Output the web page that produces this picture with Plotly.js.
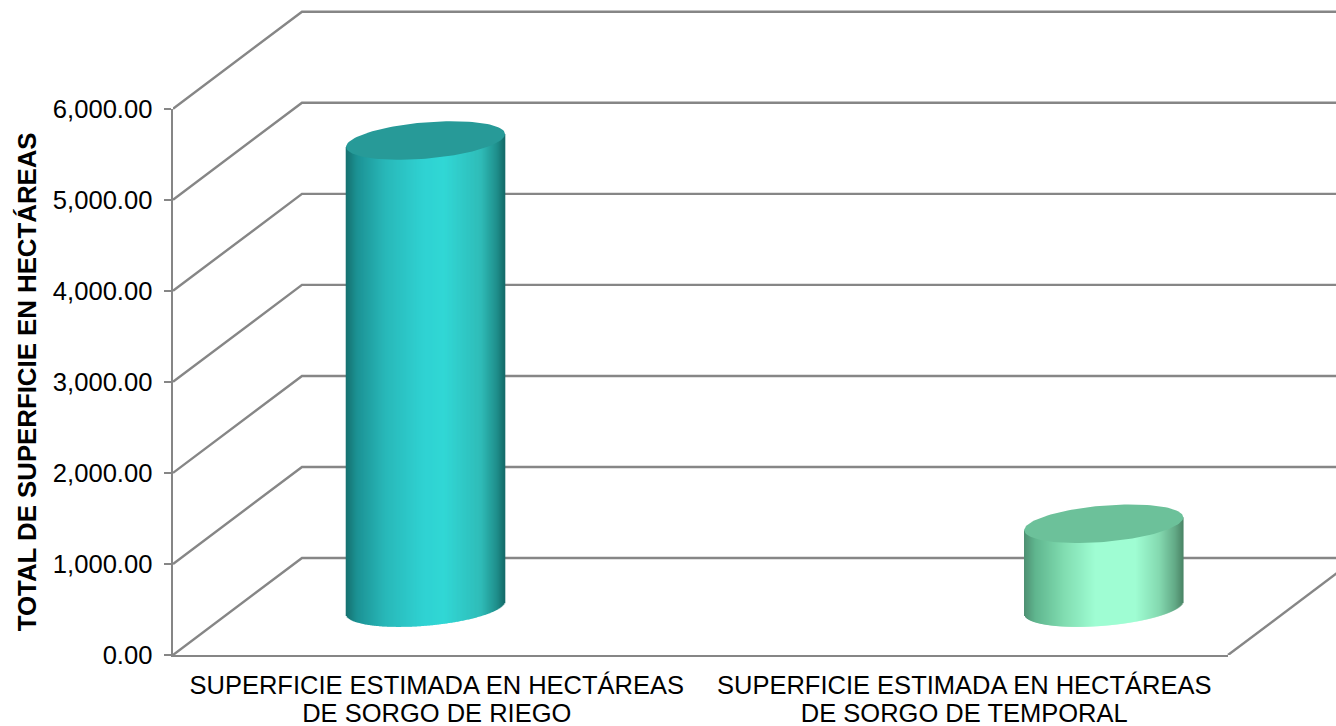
<!DOCTYPE html>
<html>
<head>
<meta charset="utf-8">
<script src="https://cdn.plot.ly/plotly-3.0.1.min.js"></script>
<style>html,body{margin:0;padding:0;background:#fff;overflow:hidden}#chart{width:1336px;height:726px}</style>
</head>
<body>
<div id="chart"></div>
<script>
// Data
const categoryLine1 = ["SUPERFICIE ESTIMADA EN HECTÁREAS", "SUPERFICIE ESTIMADA EN HECTÁREAS"];
const categoryLine2 = ["DE SORGO DE RIEGO", "DE SORGO DE TEMPORAL"];
const categoryPositions = [0, 1];
const values = [5130, 920];
const yTicks = [0, 1000, 2000, 3000, 4000, 5000, 6000];
const yTickLabels = ["0.00", "1,000.00", "2,000.00", "3,000.00", "4,000.00", "5,000.00", "6,000.00"];
const yTitle = "TOTAL DE SUPERFICIE EN HECTÁREAS";

// Look of the oblique 3D box and the cylinders
const GRID = "#868686";
const FONT = "Liberation Sans, Arial, sans-serif";
const W = 1336, H = 726, pxL = 173, pxR = 1228, pxTop = 108.7, pxBottom = 655;
const depthX = 0.2445, depthY = 1065;       // back wall offset, in axis units
const cylCenters = [-0.0213, 1.2645];       // cylinder centres on the x axis
const cylHalfW = 0.1507;                    // half width in x units
const cylBase = 521;                        // y of the centre of the bottom ellipse
const tilt = 71, minor = 200;               // ellipse shape in y units
const slices = 159;
const teal = [[0,"#16706f"],[.07,"#1c9294"],[.25,"#29b8b9"],[.5,"#30d3d3"],[.62,"#31d7d5"],[.85,"#30bcb8"],[.95,"#1f8f8c"],[1,"#146a68"]];
const green = [[0,"#4d8f72"],[.07,"#5fb58e"],[.25,"#80dcb0"],[.45,"#9ffdd3"],[.7,"#9ffdd3"],[.85,"#84d9b0"],[.95,"#62a986"],[1,"#4a8566"]];
const topColors = ["#279a98", "#6cc19a"];
const ramps = [teal, green];

const xL = -0.5, xR = 1.5, yMax = 6000;
const xPerPx = (xR - xL) / (pxR - pxL), yPerPx = yMax / (pxBottom - pxTop);

function hex(c){return [1,3,5].map(i=>parseInt(c.substr(i,2),16));}
function ramp(stops,t){
  for(let i=1;i<stops.length;i++){
    if(t<=stops[i][0]){
      const a=stops[i-1],b=stops[i],k=(t-a[0])/(b[0]-a[0]);
      const A=hex(a[1]),B=hex(b[1]);
      return "rgb("+A.map((v,j)=>Math.round(v+(B[j]-v)*k)).join(",")+")";
    }
  }
  return stops[stops.length-1][1];
}

const traces = [];
// Walls and floor, on a subplot that reaches the page's top and right edges
const common = {type:"scatter",mode:"lines",line:{color:GRID,width:2.4},hoverinfo:"skip",showlegend:false,xaxis:"x",yaxis:"y"};
yTicks.forEach(v=>{
  traces.push(Object.assign({},common,{x:[xL,xL+depthX,xR+depthX],y:[v,v+depthY,v+depthY]}));
});
traces.push(Object.assign({},common,{x:[xR,xR+depthX],y:[0,depthY]}));

// Cylinders
values.forEach((val,k)=>{
  const xs=[],bases=[],hs=[],cols=[];
  const sw=2*cylHalfW/slices;
  for(let i=0;i<slices;i++){
    const t=(i+.5)/slices, c=2*t-1, s=Math.sqrt(1-c*c);
    const low=cylBase+tilt*c-minor*s;
    xs.push(cylCenters[k]+c*cylHalfW);
    bases.push(low);
    hs.push(cylBase+val+tilt*c-low);
    cols.push(ramp(ramps[k],t));
  }
  traces.push({type:"bar",x:xs,y:hs,base:bases,width:sw*1.6,marker:{color:cols,line:{width:0}},
    hoverinfo:"skip",showlegend:false,xaxis:"x2",yaxis:"y2"});
  const ex=[],ey=[];
  for(let a=0;a<=120;a++){
    const th=a/120*2*Math.PI,c=Math.cos(th),s=Math.sin(th);
    ex.push(cylCenters[k]+c*cylHalfW);
    ey.push(cylBase+val+tilt*c+minor*s);
  }
  traces.push({type:"scatter",mode:"lines",x:ex,y:ey,fill:"toself",fillcolor:topColors[k],
    line:{width:0,color:topColors[k]},hoverinfo:"skip",showlegend:false,xaxis:"x2",yaxis:"y2"});
});

const domX = [pxL/W, 1], domY = [(H-pxBottom)/H, 1];
const layout = {
  width:W,height:H,paper_bgcolor:"#fff",plot_bgcolor:"rgba(0,0,0,0)",showlegend:false,
  margin:{l:0,r:0,t:0,b:0,pad:0},barmode:"overlay",
  // back walls + second line of the category labels
  xaxis:{domain:domX,anchor:"y",range:[xL,xL+(W-pxL)*xPerPx],tickmode:"array",tickvals:categoryPositions,ticktext:categoryLine2,ticks:"",
    showgrid:false,zeroline:false,showline:false,
    tickfont:{family:FONT,size:25.5,color:"#000"},ticklabelstandoff:40,tickangle:0,fixedrange:true},
  yaxis:{domain:domY,anchor:"x",range:[0,pxBottom*yPerPx],visible:false,fixedrange:true},
  // front: value axis, baseline, first line of the category labels, cylinders
  xaxis2:{domain:[pxL/W,pxR/W],anchor:"y2",range:[xL,xR],tickmode:"array",tickvals:categoryPositions,ticktext:categoryLine1,ticks:"",
    showgrid:false,zeroline:false,showline:true,linecolor:GRID,linewidth:2.4,
    tickfont:{family:FONT,size:25.5,color:"#000"},ticklabelstandoff:6,tickangle:0,fixedrange:true},
  yaxis2:{domain:[(H-pxBottom)/H,(H-pxTop)/H],anchor:"x2",range:[0,yMax],tickmode:"array",tickvals:yTicks,ticktext:yTickLabels,ticks:"outside",ticklen:7,tickwidth:2,tickcolor:GRID,
    showgrid:false,zeroline:false,showline:true,linecolor:GRID,linewidth:2.4,
    tickfont:{family:FONT,size:25.6,color:"#000"},ticklabelstandoff:6,fixedrange:true,
    title:{text:yTitle,font:{family:FONT,size:25.8,color:"#000",weight:"bold"},standoff:9}}
};
Plotly.newPlot("chart",traces,layout,{displayModeBar:false,staticPlot:true});
</script>
</body>
</html>
